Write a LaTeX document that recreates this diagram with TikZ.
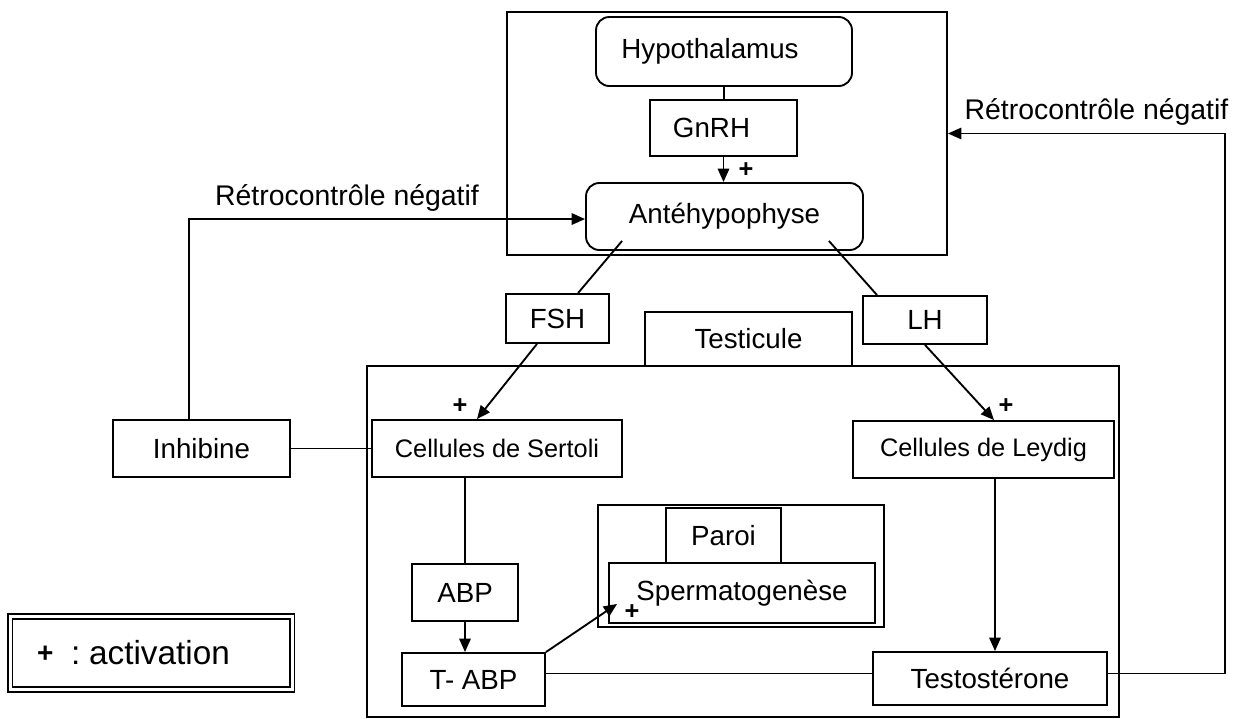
\documentclass[tikz,border=0pt]{standalone}
\usepackage{fontspec}
\setmainfont{Liberation Sans}
\usetikzlibrary{arrows.meta}

\tikzset{every picture/.style={line width=1.4pt}}
\tikzset{
  boite/.style={draw, inner sep=0.75pt, font=\fontsize{20.8}{24}\selectfont},
  arrondi/.style={boite, rounded corners=10pt},
  cadre/.style={draw, inner sep=0pt},
  etiquette/.style={inner sep=0.75pt, font=\fontsize{21.3}{24}\selectfont},
  plus/.style={inner sep=0pt, font=\bfseries\fontsize{19}{22}\selectfont},
  fleche/.style={-{Triangle[length=10pt,width=8.5pt]}},
}

\begin{document}
\begin{tikzpicture}[x=0.75pt,y=0.75pt,yscale=-1,xscale=1]
\useasboundingbox (0,0) rectangle (1238,718);

%Frames
\node [cadre, minimum width=330pt, minimum height=182.25pt] (tete) at (727,133.5) {};
\node [cadre, minimum width=564pt, minimum height=263.25pt] (testicule) at (743,541.5) {};
\node [cadre, minimum width=214.5pt, minimum height=91.5pt] (paroiCadre) at (741,566) {};

%Boxes
\node [arrondi, minimum width=192pt, minimum height=51.75pt] (hypo) at (724,51.5) {Hypothalamus\hspace*{21pt}};
\node [boite, minimum width=110.25pt, minimum height=42pt] (gnrh) at (723.5,128) {GnRH\hspace*{18pt}};
\node [arrondi, minimum width=207.75pt, minimum height=50.25pt] (ante) at (724.5,216.5) {Antéhypophyse};
\node [boite, minimum width=77.25pt, minimum height=36.75pt] (fsh) at (557.5,318.5) {FSH};
\node [boite, minimum width=155.25pt, minimum height=40.5pt] (testLabel) at (748.5,339) {Testicule};
\node [boite, minimum width=93pt, minimum height=36pt] (lh) at (925,320) {LH};
\node [boite, minimum width=132.75pt, minimum height=42.75pt] (inhibine) at (201.5,448.5) {Inhibine};
\node [boite, minimum width=187.5pt, minimum height=42.75pt, font=\fontsize{19}{22}\selectfont] (sertoli) at (497,448.5) {Cellules de Sertoli};
\node [boite, minimum width=195.75pt, minimum height=42.75pt, font=\fontsize{19}{22}\selectfont] (leydig) at (983.5,449.5) {Cellules de Leydig};
\node [boite, minimum width=79.5pt, minimum height=42.75pt] (abp) at (465,592.5) {ABP};
\node [boite, minimum width=107.25pt, minimum height=39.75pt] (tabp) at (473.5,679.5) {T- ABP};
\node [boite, minimum width=86.25pt, minimum height=41.25pt] (paroi) at (723.5,535.5) {Paroi};
\node [boite, minimum width=199.5pt, minimum height=45pt] (sperm) at (742,593) {Spermatogenèse};
\node [boite, minimum width=175.5pt, minimum height=39.75pt] (testo) at (990,678.5) {Testostérone};

%Legend
\node [boite, double, double distance=2.25pt, minimum width=211.5pt, minimum height=55pt, text width=171pt, align=left, font=\fontsize{25}{28}\selectfont] (legende) at (151,653) {\raisebox{1.5pt}{\bfseries\fontsize{21}{24}\selectfont +}\hspace{5pt} :\hspace{-6pt} activation};

%Labels
\node [etiquette] (retroG) at (347,198) {Rétrocontrôle négatif};
\node [etiquette] (retroD) at (1096.5,112) {Rétrocontrôle négatif};
\node [plus] (plusGnrh) at (746,170) {+};
\node [plus] (plusFsh) at (460,406) {+};
\node [plus] (plusLh) at (1006,406) {+};
\node [plus] (plusSperm) at (632,612) {+};

%Connectors
\draw (hypo.south) -- (hypo.south |- gnrh.north);
\draw [fleche] (gnrh.south) -- (gnrh.south |- ante.north);
\draw ([xshift=27.75pt,yshift=-7.5pt]ante.south west) -- ([xshift=15.4pt]fsh.north);
\draw ([xshift=-26.25pt,yshift=-7.5pt]ante.south east) -- ([xshift=-36pt]lh.north);
\draw [fleche] ([xshift=-15.4pt]fsh.south) -- ([xshift=-15pt]sertoli.north);
\draw [fleche] (lh.south) -- ([xshift=7.9pt]leydig.north);
\draw (inhibine.east) -- (sertoli.west);
\draw [fleche] ([xshift=-9.4pt]inhibine.north) |- ([yshift=1.9pt]ante.west);
\draw (abp.north) -- (abp.north |- sertoli.south);
\draw [fleche] (abp.south) -- (abp.south |- tabp.north);
\draw [fleche] (tabp.north east) -- ([xshift=6.75pt,yshift=-15pt]sperm.south west);
\coordinate (tabpSortie) at ([yshift=-4.5pt]tabp.east);
\draw (tabpSortie) -- (tabpSortie -| testo.west);
\coordinate (testoEntree) at ([xshift=3.75pt]testo.north);
\draw [fleche] (testoEntree |- leydig.south) -- (testoEntree);
\coordinate (coin) at (1225,133.5);
\draw [fleche] (tabpSortie -| testo.east) -| (coin) -- (tete.east);

\end{tikzpicture}
\end{document}
